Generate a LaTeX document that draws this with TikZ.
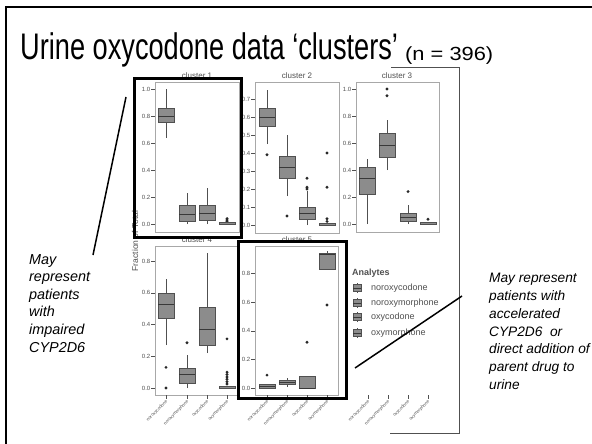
\documentclass[tikz,border=0pt]{standalone}
\usepackage{fontspec}
\setmainfont{Liberation Sans}
\usepackage{graphicx}
\definecolor{boxfill}{HTML}{8C8C8C}
\definecolor{boxline}{HTML}{505050}
\definecolor{panelline}{HTML}{A8A8A8}
\definecolor{axtext}{HTML}{505050}
\def\Y{224}\def\K{135}
\newcommand\bxp[6]{%
  \draw[whisk] (#1,{\Y-\K*#2}) -- (#1,{\Y-\K*#6});
  \draw[boxst] ({#1-8},{\Y-\K*#3}) rectangle ({#1+8},{\Y-\K*#5});
  \draw[medst] ({#1-8},{\Y-\K*#4}) -- ({#1+8},{\Y-\K*#4});
}
\newcommand\flatbx[1]{%
  \draw[boxst] ({#1-8},{\Y}) rectangle ({#1+8},{\Y-\K*0.01});
}
\newcommand\outl[2]{\fill[boxline!50!black] (#1,{\Y-\K*#2}) circle (1.6);}
\newcommand\yaxis[3]{% #1 name, #2 left x, #3 values
  \foreach \v [count=\i] in {#3} {
    \draw[tickst] ({#2-4},{\Y-\K*\v}) -- (#2,{\Y-\K*\v});
    \node[ticklab, anchor=east] (#1-\i) at ({#2-4.5},{\Y-\K*\v}) {\v};
  }
}
\newcommand\xaxis[2]{% #1 name, #2 list of x
  \foreach \xc/\lab [count=\i] in {#2} {
    \draw[tickst] (\xc,395) -- (\xc,399);
    \node[xlab, anchor=east, rotate=45] (#1-\i) at (\xc+1,401) {\lab};
  }
}
\begin{document}
\begin{tikzpicture}[x=1pt,y=-1pt,
  whisk/.style={draw=boxline, line width=0.7pt},
  boxst/.style={draw=boxline, fill=boxfill, line width=0.7pt},
  medst/.style={draw=boxline!70!black, line width=0.8pt},
  tickst/.style={draw=axtext, line width=0.5pt},
  ticklab/.style={font=\fontsize{6}{7}\selectfont, text=axtext, inner sep=0pt},
  xlab/.style={font=\fontsize{4.4}{5.5}\selectfont, text=axtext, inner sep=0pt},
  panelst/.style={draw=panelline, line width=1pt},
  ctitle/.style={font=\fontsize{8}{9}\selectfont, text=axtext, inner sep=0pt},
  hilite/.style={draw=black, line width=3pt},
  pointer/.style={draw=black, line width=1.5pt},
  note/.style={font=\fontsize{14.4}{17.6}\selectfont\itshape, align=left, inner sep=0pt, anchor=north west},
  legtext/.style={font=\fontsize{9}{10}\selectfont, text=axtext, inner sep=0pt, anchor=west}]
\useasboundingbox (0,0) rectangle (592,444);
\fill[white] (0,0) rectangle (592,444);
% slide frame
\draw[line width=2pt] (6,444) -- (6,7) -- (592,7);
% title
\node[anchor=base west, inner sep=0pt] (title) at (20,60)
  {\scalebox{0.735}[1]{\fontsize{37}{40}\selectfont Urine oxycodone data ‘clusters’}};
\node[anchor=base west, inner sep=0pt] (ncount) at (405,61)
  {\scalebox{1.15}[1]{\fontsize{19}{22}\selectfont (n = 396)}};
% right bracket of plot image
\draw[draw=boxline, line width=0.8pt] (391,67) -- (459,67) -- (459,433) -- (390,433);
% ---------- panel 1
\def\Y{224}\def\K{135}
\draw[panelst] (155,83) rectangle (239,232);
\node[ctitle] (c1) at (197,76) {cluster 1};
\yaxis{p1}{155}{0.0,0.2,0.4,0.6,0.8,1.0}
\bxp{166}{0.64}{0.75}{0.80}{0.86}{1.0}
\bxp{187}{0.0}{0.02}{0.07}{0.14}{0.23}
\bxp{207}{0.0}{0.03}{0.08}{0.14}{0.27}
\outl{227}{0.04}\outl{227}{0.03}\outl{227}{0.02}
\flatbx{227}
% ---------- panel 2
\def\Y{225}\def\K{180}
\draw[panelst] (255,83) rectangle (339,233);
\node[ctitle] (c2) at (297,76) {cluster 2};
\yaxis{p2}{255}{0.0,0.1,0.2,0.3,0.4,0.5,0.6,0.7}
\bxp{267}{0.45}{0.55}{0.60}{0.65}{0.75}\outl{267}{0.39}
\bxp{287}{0.16}{0.26}{0.32}{0.38}{0.50}\outl{287}{0.05}
\bxp{307}{0.0}{0.03}{0.065}{0.10}{0.19}
\outl{307}{0.26}\outl{307}{0.21}\outl{307}{0.20}
\outl{327}{0.40}\outl{327}{0.21}\outl{327}{0.035}\outl{327}{0.02}
\flatbx{327}
% ---------- panel 3
\def\Y{224}\def\K{135}
\draw[panelst] (356,83) rectangle (439,232);
\node[ctitle] (c3) at (397,76) {cluster 3};
\yaxis{p3}{356}{0.0,0.2,0.4,0.6,0.8,1.0}
\bxp{367}{0.0}{0.22}{0.34}{0.42}{0.48}
\bxp{387}{0.40}{0.49}{0.58}{0.67}{0.77}\outl{387}{0.95}\outl{387}{1.0}
\bxp{408}{0.0}{0.02}{0.05}{0.08}{0.14}\outl{408}{0.24}
\outl{428}{0.035}
\flatbx{428}
% ---------- panel 4
\def\Y{388}\def\K{158.5}
\draw[panelst] (155,246) rectangle (238,395);
\node[ctitle] (c4) at (197,240) {cluster 4};
\yaxis{p4}{155}{0.0,0.2,0.4,0.6,0.8}
\bxp{166}{0.27}{0.44}{0.53}{0.60}{0.69}\outl{166}{0.13}\outl{166}{0.0}
\bxp{187}{0.0}{0.03}{0.085}{0.125}{0.21}\outl{187}{0.285}
\bxp{207}{0.22}{0.27}{0.37}{0.51}{0.85}
\outl{227}{0.31}\outl{227}{0.10}\outl{227}{0.085}\outl{227}{0.07}
\outl{227}{0.055}\outl{227}{0.04}\outl{227}{0.025}
\flatbx{227}
\xaxis{x4}{166/noroxycodone,187/noroxymorphone,207/oxycodone,227/oxymorphone}
% ---------- panel 5
\def\Y{388}\def\K{143}
\draw[panelst] (255,246) rectangle (338,395);
\node[ctitle] (c5) at (297,240) {cluster 5};
\yaxis{p5}{255}{0.0,0.2,0.4,0.6,0.8}
\bxp{267}{0.0}{0.0}{0.01}{0.025}{0.025}\outl{267}{0.09}
\bxp{287}{0.01}{0.025}{0.04}{0.055}{0.07}
\bxp{307}{0.0}{0.0}{0.0}{0.08}{0.08}\outl{307}{0.32}
\bxp{327}{0.83}{0.83}{0.935}{0.94}{0.955}\outl{327}{0.58}
\xaxis{x5}{267/noroxycodone,287/noroxymorphone,307/oxycodone,327/oxymorphone}
% ---------- third column axis
\xaxis{x6}{368/noroxycodone,388/noroxymorphone,408/oxycodone,428/oxymorphone}
% y label
\node[font=\fontsize{8.5}{9}\selectfont, text=axtext, rotate=90, inner sep=0pt] (ylab) at (135,241) {Fraction of Total};
% legend
\node[font=\fontsize{9}{10}\selectfont\bfseries, text=axtext, inner sep=0pt, anchor=west] (leghead) at (352,273) {Analytes};
\foreach \yy/\lab [count=\i] in {288/noroxycodone,303/noroxymorphone,317/oxycodone,333/oxymorphone} {
  \draw[whisk] (357,\yy-5) -- (357,\yy+5);
  \draw[boxst] (353,\yy-3.5) rectangle (361,\yy+3.5);
  \draw[medst] (353,\yy) -- (361,\yy);
  \node[legtext] (leg-\i) at (371,\yy) {\lab};
}
% highlight boxes
\draw[hilite] (134,79) rectangle (241,237);
\draw[hilite] (238,241) rectangle (346,398);
% notes
\node[note] (leftnote) at (29,254) {May\\represent\\patients\\with\\impaired\\CYP2D6};
\node[note, font=\fontsize{13.7}{17.8}\selectfont\itshape] (rightnote) at (489,273) {May represent\\patients with\\accelerated\\CYP2D6~~or\\direct addition of\\parent drug to\\urine};
\coordinate (lp1) at (126,97);
\coordinate (lp2) at (93,255);
\coordinate (rp1) at (355,368);
\coordinate (rp2) at (462,296);
\draw[pointer] (lp1) -- (lp2);
\draw[pointer] (rp1) -- (rp2);
\end{tikzpicture}
\end{document}
